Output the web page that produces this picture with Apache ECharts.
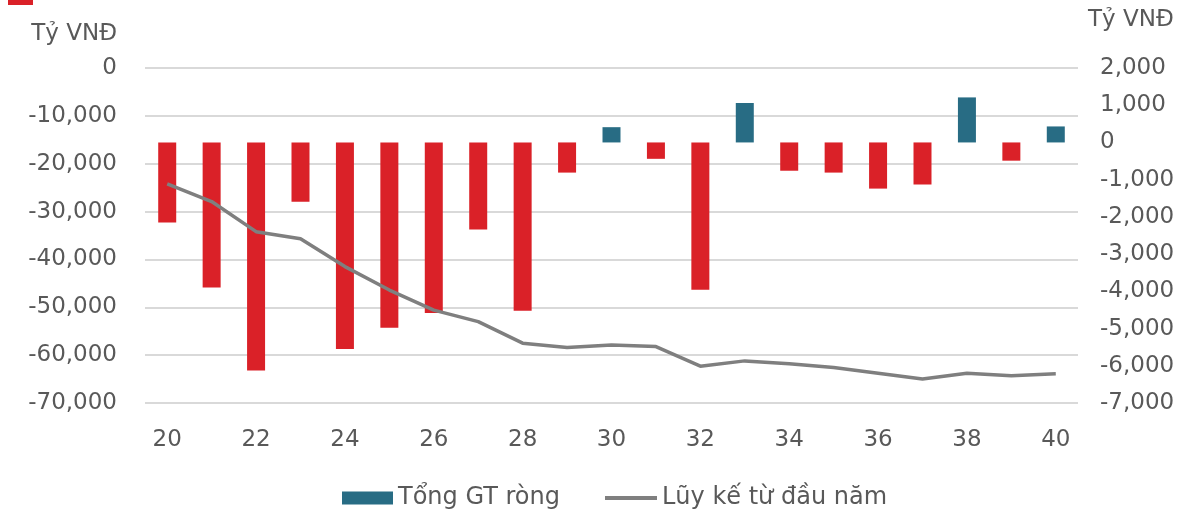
<!DOCTYPE html>
<html>
<head>
<meta charset="utf-8">
<script src="https://cdn.jsdelivr.net/npm/echarts@6/dist/echarts.min.js"></script>
<style>
  html, body { margin: 0; padding: 0; background: #fff; }
  #chart { width: 1186px; height: 515px; }
</style>
</head>
<body>
<div id="chart"></div>
<script>
// tuần 20 -> 40
const weeks = ['20','21','22','23','24','25','26','27','28','29','30','31','32','33','34','35','36','37','38','39','40'];
// Tổng GT ròng (trục phải)
const netValue = [-2150,-3900,-6130,-1590,-5550,-4980,-4580,-2340,-4520,-810,410,-440,-3960,1060,-760,-810,-1240,-1130,1210,-490,430];
// Lũy kế từ đầu năm (trục trái)
const cumulative = [-24200,-27900,-34200,-35700,-41500,-46400,-50600,-53000,-57500,-58400,-57900,-58200,-62300,-61200,-61800,-62600,-63800,-65000,-63800,-64300,-63900];

const leftTicks = { min: -70000, max: 0, interval: 10000 };
const rightTicks = { min: -7000, max: 2000, interval: 1000 };

const red = '#DA2128';
const teal = '#286C84';
const grey = '#7F7F7F';
const txt = '#595959';
const font = 'DejaVu Sans';

const myChart = echarts.init(document.getElementById('chart'));

const fmt = v => v.toLocaleString('en-US');

const option = {
  backgroundColor: '#fff',
  animation: false,
  textStyle: { fontFamily: font, color: txt },
  grid: { left: 145, right: 108, top: 68, bottom: 112 },
  // 两个图例分开放，线条图例不要圆点
  legend: [
    {
      bottom: 0,
      left: 337,
      itemWidth: 51,
      itemHeight: 13,
      textStyle: { fontSize: 24, color: txt, fontFamily: font },
      data: [{ name: 'Tổng GT ròng', icon: 'rect', itemStyle: { color: teal } }]
    },
    {
      bottom: 0,
      left: 600,
      itemWidth: 52,
      itemHeight: 4,
      textStyle: { fontSize: 24, color: txt, fontFamily: font },
      data: [{ name: 'Lũy kế từ đầu năm', icon: 'rect', itemStyle: { color: grey } }]
    }
  ],
  xAxis: {
    type: 'category',
    data: weeks,
    axisLine: { show: false },
    axisTick: { show: false },
    axisLabel: { interval: 1, fontSize: 23, color: txt, margin: 26 }
  },
  yAxis: [
    {
      type: 'value',
      ...leftTicks,
      name: 'Tỷ VNĐ',
      nameLocation: 'end',
      nameGap: 22,
      nameTextStyle: { fontSize: 23, color: txt, align: 'right', padding: [0, 28, 0, 0] },
      axisLine: { show: false },
      axisTick: { show: false },
      axisLabel: { fontSize: 23, color: txt, margin: 28, formatter: fmt },
      splitLine: { lineStyle: { color: '#d9d9d9', width: 2 } }
    },
    {
      type: 'value',
      ...rightTicks,
      position: 'right',
      name: 'Tỷ VNĐ',
      nameLocation: 'end',
      nameGap: 36,
      nameTextStyle: { fontSize: 23, color: txt, align: 'left', padding: [0, 0, 0, 10] },
      axisLine: { show: false },
      axisTick: { show: false },
      axisLabel: { fontSize: 23, color: txt, margin: 22, formatter: fmt },
      splitLine: { show: false }
    }
  ],
  series: [
    {
      name: 'Tổng GT ròng',
      type: 'bar',
      yAxisIndex: 1,
      barWidth: 18,
      itemStyle: { color: teal },
      data: netValue.map(v => ({ value: v, itemStyle: { color: v < 0 ? red : teal } }))
    },
    {
      name: 'Lũy kế từ đầu năm',
      type: 'line',
      yAxisIndex: 0,
      data: cumulative,
      symbol: 'none',
      lineStyle: { color: grey, width: 3.5 },
      itemStyle: { color: grey },
      z: 3
    }
  ],
  graphic: [
    { type: 'rect', left: 8, top: 0, shape: { width: 25, height: 5 }, style: { fill: red } }
  ]
};

myChart.setOption(option);
</script>
</body>
</html>
